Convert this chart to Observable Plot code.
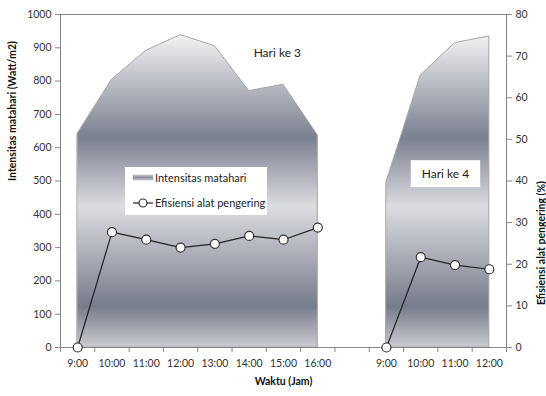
<!DOCTYPE html>
<html><head><meta charset="utf-8">
<script src="https://cdn.jsdelivr.net/npm/d3@7"></script>
<script src="https://cdn.jsdelivr.net/npm/@observablehq/plot@0.6"></script>
<style>
body{margin:0;background:#fff;}
#chart{position:relative;width:546px;height:396px;}
</style></head><body><div id="chart"></div>
<script>
const categories = ["9:00","10:00","11:00","12:00","13:00","14:00","15:00","16:00","","9:00","10:00","11:00","12:00"];
const intensitas = [642,804,891,938,905,770,789,637,null,496,817,914,934];
const efisiensi = [0,27.7,25.9,24.0,24.9,26.8,25.9,28.8,null,0,21.7,19.8,18.8];
const leftTicks = [0,100,200,300,400,500,600,700,800,900,1000];
const rightTicks = [0,10,20,30,40,50,60,70,80];
const annotations = [{x:5.82, y:883, text:"Hari ke 3"},{x:10.72, y:520, text:"Hari ke 4"}];
const legendItems = ["Intensitas matahari","Efisiensi alat pengering"];

const ratio = 1000/80;
const rows = categories.map((c,i)=>({i, cat:c, base:0, int:intensitas[i], eff:efisiensi[i], effY: efisiensi[i]==null?null:efisiensi[i]*ratio}));
const axisGray = "#868686";
const textCol = "#333";

const plot = Plot.plot({
  width:546, height:396, marginLeft:60, marginRight:40, marginTop:14, marginBottom:49,
  x:{type:"linear", domain:[-0.5,12.5]},
  y:{domain:[0,1000]},
  style:{fontFamily:"Lato, sans-serif", fontSize:"10.5px", color:textCol, background:"white"},
  marks:[
    Plot.area(rows, {x1:"i", y1:"base", y2:"int", fill:"url(#silverGrad)", stroke:"#a6a6a6", strokeWidth:1}),
    Plot.ruleY([1000], {stroke:axisGray}),
    Plot.ruleY([0], {stroke:axisGray}),
    Plot.ruleX([-0.5, 12.5], {stroke:axisGray}),
    Plot.axisY(leftTicks, {anchor:"left", tickSize:5, tickPadding:4, tickFormat:d=>String(d), stroke:axisGray, fill:textCol, label:null}),
    Plot.axisY(rightTicks.map(v=>v*ratio), {anchor:"right", tickSize:5, tickPadding:4, tickFormat:d=>String(Math.round(d/ratio)), stroke:axisGray, fill:textCol, label:null}),
    Plot.axisX(d3.range(-0.5,13,1), {tickSize:5, tickFormat:()=>"", stroke:axisGray, label:null}),
    Plot.axisX(d3.range(13), {tickSize:0, tickPadding:12, tickFormat:i=>categories[i], fill:textCol, label:null}),
    Plot.line(rows, {x:"i", y:"effY", stroke:"#222", strokeWidth:1.2}),
    Plot.dot(rows.filter(d=>d.eff!=null), {x:"i", y:"effY", r:4.5, fill:"white", stroke:"#333", strokeWidth:1.2}),
    Plot.text(annotations, {x:"x", y:"y", text:"text", fontSize:12, fill:"#222", className:"annot"}),
    Plot.text(["Intensitas matahari (Watt/m2)"], {frameAnchor:"left", dx:-48, rotate:-90, fontWeight:"bold", fontSize:10.5, fill:"#111"}),
    Plot.text(["Efisiensi alat pengering (%)"], {frameAnchor:"right", dx:35, rotate:-90, fontWeight:"bold", fontSize:10.5, fill:"#111"}),
    Plot.text(["Waktu (Jam)"], {frameAnchor:"bottom", dy:37, fontWeight:"bold", fontSize:10.5, fill:"#111"})
  ]
});
document.getElementById("chart").appendChild(plot);

const svg = d3.select(plot);
const defs = svg.insert("defs", ":first-child");
const g = defs.append("linearGradient").attr("id","silverGrad").attr("x1",0).attr("y1",0).attr("x2",0).attr("y2",1);
[[0,"#f3f3f4"],[0.33,"#7b8090"],[0.55,"#dcdde1"],[0.87,"#777c8c"],[1,"#cbccd1"]].forEach(([o,c])=>g.append("stop").attr("offset",o).attr("stop-color",c));
const g2 = defs.append("linearGradient").attr("id","swatchGrad").attr("x1",0).attr("y1",0).attr("x2",0).attr("y2",1);
[[0,"#c8c9cf"],[0.5,"#8a8f9c"],[1,"#c8c9cf"]].forEach(([o,c])=>g2.append("stop").attr("offset",o).attr("stop-color",c));

// white box behind "Hari ke 4"
const annotTexts = svg.selectAll(".annot text").nodes();
const t4 = annotTexts[1];
if (t4) {
  const bb = t4.getBBox();
  const tr = t4.getAttribute("transform") || "";
  d3.select(t4.parentNode).insert("rect", () => t4)
    .attr("transform", tr)
    .attr("x", bb.x - 11).attr("y", bb.y - 6).attr("width", bb.width + 22).attr("height", bb.height + 12)
    .attr("fill","white");
}

// legend
const lg = svg.append("g").attr("transform","translate(125,167)").style("font-family","Lato, sans-serif").style("font-size","11px").attr("text-anchor","start");
lg.append("rect").attr("width",142).attr("height",48).attr("fill","white");
lg.append("rect").attr("x",8).attr("y",8).attr("width",20).attr("height",5).attr("fill","url(#swatchGrad)").attr("stroke","#a6a6a6").attr("stroke-width",0.5);
lg.append("text").attr("x",30).attr("y",11).attr("dy","0.35em").attr("text-anchor","start").attr("fill","#222").text(legendItems[0]);
lg.append("line").attr("x1",8).attr("x2",28).attr("y1",36).attr("y2",36).attr("stroke","#222").attr("stroke-width",1.2);
lg.append("circle").attr("cx",18).attr("cy",36).attr("r",4).attr("fill","white").attr("stroke","#333").attr("stroke-width",1.2);
lg.append("text").attr("x",30).attr("y",36).attr("dy","0.35em").attr("text-anchor","start").attr("fill","#222").text(legendItems[1]);
</script>
</body></html>
